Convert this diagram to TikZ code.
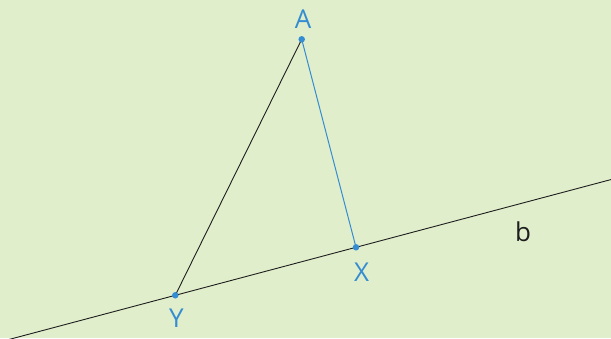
\documentclass[tikz,border=0pt]{standalone}
\usepackage{fontspec}
\setmainfont{Open Sans}
\usetikzlibrary{positioning, calc}
\definecolor{bggreen}{RGB}{224,238,203}
\definecolor{ptblue}{RGB}{52,140,210}
\definecolor{lineblk}{RGB}{30,30,30}

\begin{document}
\begin{tikzpicture}[
  x=1pt, y=-1pt,
  pt/.style={circle, fill=ptblue, inner sep=0pt, minimum size=6.5pt},
  lbl/.style={inner sep=0pt, font=\fontsize{26}{30}\selectfont, text=ptblue},
  seg/.style={line width=0.9pt, draw=lineblk}
]
\fill[bggreen] (0,0) rectangle (611,338);
\useasboundingbox (0,0) rectangle (611,338);
\clip (0,0) rectangle (611,338);

\coordinate (A) at (301.7,39.3);
\coordinate (X) at (356,247.3);
\coordinate (Y) at (175.3,295.3);

% line b through Y and X
\draw[seg] ($(Y)!-1.2!(X)$) -- ($(Y)!3!(X)$);
\draw[seg] (Y) -- (A);
\draw[seg, draw=ptblue, line width=1pt] (A) -- (X);

\node[pt] (ptA) at (A) {};
\node[pt] (ptX) at (X) {};
\node[pt] (ptY) at (Y) {};

\node[lbl, above=10.6pt of A, xshift=1.5pt] (labA) {A};
\node[lbl, below=15.4pt of X, xshift=5.6pt] (labX) {X};
\node[lbl, below=13pt of Y, xshift=1.2pt] (labY) {Y};
\node[lbl, text=lineblk] (labb) at (523,231.7) {b};
\end{tikzpicture}
\end{document}
